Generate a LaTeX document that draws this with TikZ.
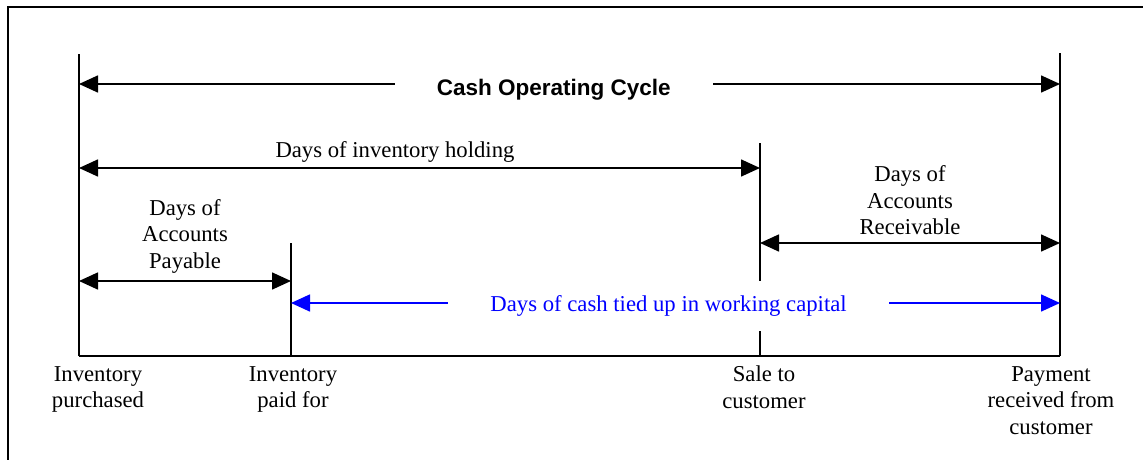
\documentclass[tikz,border=0pt]{standalone}
\usepackage{fontspec}
\setmainfont{Liberation Serif}
\newfontfamily\headfont{Liberation Sans}
\usepackage{tikz}
\usetikzlibrary{arrows.meta, positioning}
\usepackage{xcolor}
\definecolor{tiedblue}{RGB}{0,0,255}

\begin{document}
\begin{tikzpicture}[
  x=1pt, y=-1pt,
  rule/.style={line width=1.6pt},
  span/.style={rule, {Triangle[length=19pt,width=17pt]}-{Triangle[length=19pt,width=17pt]}},
  lbl/.style={align=center, inner sep=0pt, font=\fontsize{22.7}{26.5}\selectfont},
  cut/.style={lbl, fill=white, inner xsep=42pt, minimum height=50pt}
]
\useasboundingbox (0,0) rectangle (1143,460);
% page frame
\draw[line width=2.2pt] (8,470) -- (8,7) -- (1150,7);

% time line with its four events
\coordinate (buy)  at (79,356);
\coordinate (pay)  at (291,356);
\coordinate (sale) at (760,356);
\coordinate (cash) at (1060,356);
\draw[rule] (buy) -- (cash);
\draw[rule] (buy) -- ++(0,-302);
\draw[rule] (pay) -- ++(0,-113);
\draw[rule] (sale) -- ++(0,-213);
\draw[rule] (cash) -- ++(0,-303);

% ends of the spans
\coordinate (cycL) at (79,84);   \coordinate (cycR) at (1060,84);
\coordinate (invL) at (79,168);  \coordinate (invR) at (760,168);
\coordinate (apL)  at (79,281);  \coordinate (apR)  at (291,281);
\coordinate (arL)  at (760,243); \coordinate (arR)  at (1060,243);
\coordinate (tieL) at (291,303); \coordinate (tieR) at (1060,303);

\draw[span] (cycL) -- (cycR)
  node[cut, pos=0.484, yshift=-6pt,
       font=\fontsize{22.5}{26.5}\selectfont\headfont\bfseries]
  {Cash Operating Cycle};
\draw[span] (invL) -- (invR)
  node[lbl, pos=0.464, above=5pt] {Days of inventory holding};
\draw[span] (apL) -- (apR)
  node[lbl, midway, above=7pt] {Days of\\Accounts\\Payable};
\draw[span] (arL) -- (arR)
  node[lbl, midway, above=7pt] {Days of\\Accounts\\Receivable};
\draw[span, tiedblue] (tieL) -- (tieR)
  node[cut, pos=0.491, yshift=-3pt, text=tiedblue]
  {Days of cash tied up in working capital};

% event names under the time line
\node[lbl, below=10pt of buy, xshift=19pt] (buyTxt) {Inventory\\purchased};
\node[lbl, below=10pt of pay, xshift=2pt] (payTxt) {Inventory\\paid for};
\node[lbl, below=10pt of sale, xshift=4pt] (saleTxt) {Sale to\\customer};
\node[lbl, below=10pt of cash, xshift=-9pt] (cashTxt)
  {Payment\\received from\\customer};
\end{tikzpicture}
\end{document}
